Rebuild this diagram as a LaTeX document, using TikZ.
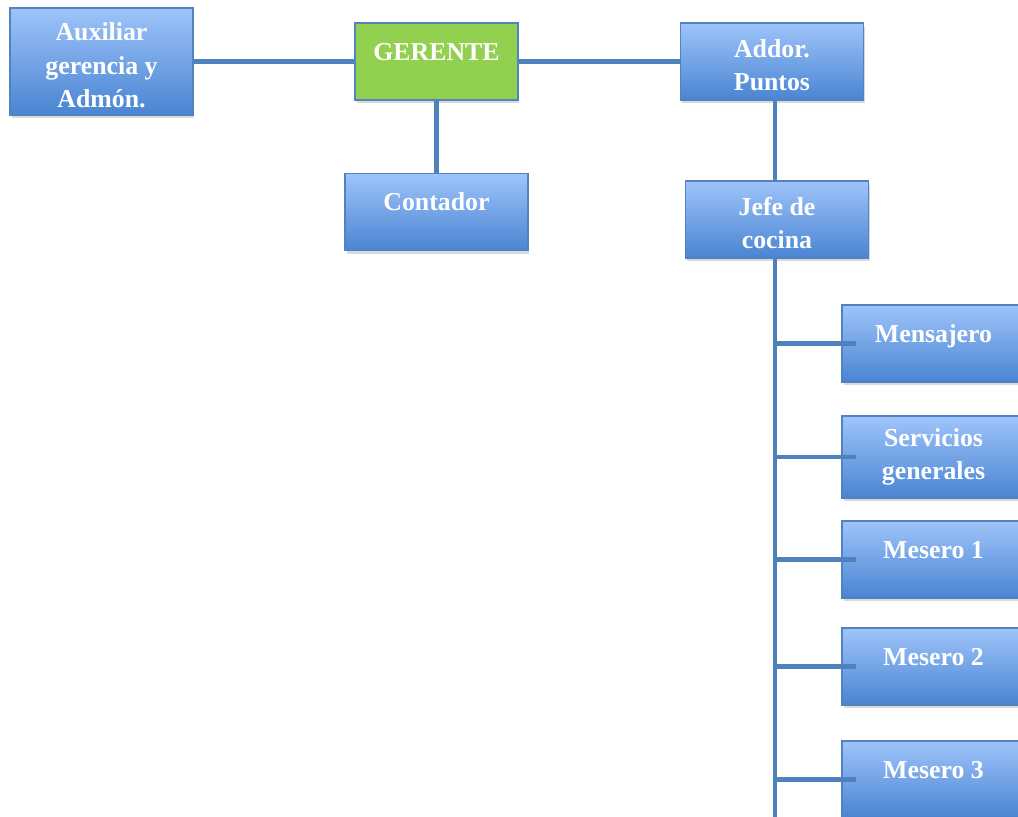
\documentclass[tikz,border=0pt]{standalone}
\usepackage{fontspec}
\setmainfont{Liberation Serif}
\usetikzlibrary{shadows}
\definecolor{boxtop}{HTML}{9EC4FA}
\definecolor{boxbot}{HTML}{4A84D2}
\definecolor{boxline}{HTML}{5283C0}
\definecolor{linkcol}{HTML}{4F81BD}
\definecolor{gergreen}{HTML}{92D050}

\begin{document}
\begin{tikzpicture}[x=0.02cm,y=-0.02cm,
  cargo/.style={rectangle,draw=boxline,line width=0.7pt,text=white,
    font=\fontsize{14.7}{19}\selectfont\bfseries,align=center,
    minimum width=3.66cm,minimum height=1.54cm,inner sep=2pt,
    drop shadow={shadow xshift=0.03cm,shadow yshift=-0.07cm,opacity=0.3}},
  azul/.style={cargo,top color=boxtop,bottom color=boxbot},
  verde/.style={cargo,fill=gergreen},
  onerow/.style={text height=0.35cm,text depth=0.39cm},
  tworow/.style={text height=1.18cm},
  threerow/.style={text height=1.85cm},
  link/.style={draw=linkcol,line width=2.4pt}]
\useasboundingbox (0,0) rectangle (1018,817);
\clip (0,0) rectangle (1018,817);

\node[azul,threerow,minimum height=2.14cm] (aux) at (101.5,61.5) {Auxiliar\\gerencia y\\Admón.};
\node[verde,onerow,minimum width=3.26cm] (ger) at (436.5,61.5) {GERENTE};
\node[azul,tworow] (addor) at (772,61.5) {Addor.\\Puntos};
\node[azul,onerow] (cont) at (436.5,212) {Contador};
\node[azul,tworow] (jefe) at (777,219.5) {Jefe de\\cocina};
\node[azul,onerow] (mens) at (933.5,343.5) {Mensajero};
\node[azul,minimum height=1.64cm] (serv) at (933.5,457) {Servicios\\generales};
\node[azul,onerow] (mes1) at (933.5,559.5) {Mesero 1};
\node[azul,onerow] (mes2) at (933.5,666.5) {Mesero 2};
\node[azul,onerow] (mes3) at (933.5,779.5) {Mesero 3};

\coordinate (trunk) at (775,0);
\coordinate (fin) at (775,830);

\draw[link] (aux.east |- ger) -- (ger) -- (addor.west |- ger);
\draw[link] (ger) -- (cont);
\draw[link] (addor.south -| trunk) -- (jefe.north -| trunk);
\draw[link] (jefe.south -| trunk) -- (fin);
\foreach \b in {mens,serv,mes1,mes2,mes3}
  \draw[link] (trunk |- \b) -- ([xshift=0.3cm]\b.west);
\end{tikzpicture}
\end{document}
